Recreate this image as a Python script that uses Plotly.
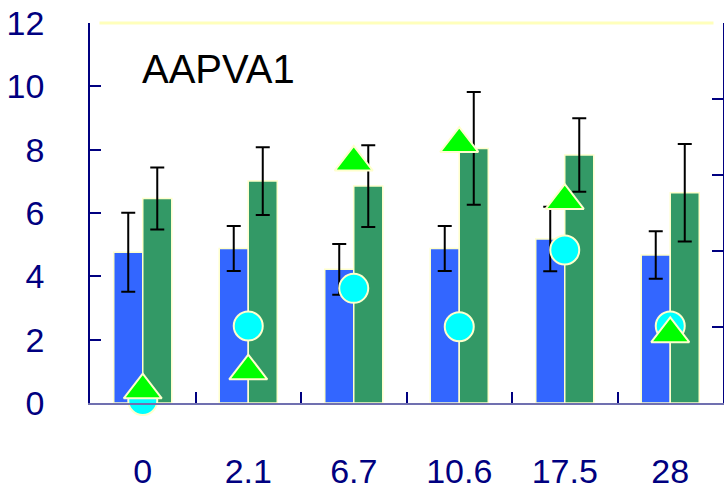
import plotly.graph_objects as go

categories = ["0", "2.1", "6.7", "10.6", "17.5", "28"]
blue_values = [4.76, 4.88, 4.22, 4.88, 5.18, 4.67]
blue_errors = [1.25, 0.71, 0.80, 0.71, 1.02, 0.75]
green_values = [6.46, 7.01, 6.85, 8.04, 7.83, 6.64]
green_errors = [0.98, 1.07, 1.29, 1.78, 1.16, 1.54]
circle_values = [0.08, 2.43, 3.62, 2.41, 4.83, 2.43]
triangle_values = [0.41, 1.01, 7.60, 8.19, 6.39, 2.18]
y_ticks = [0, 2, 4, 6, 8, 10, 12]

OUTLINE = "#FFFFCC"
NAVY = "#000080"
NUMFONT = "Liberation Sans, Arial, sans-serif"

fig = go.Figure()
fig.add_trace(go.Bar(
    x=categories, y=blue_values,
    marker=dict(color="#3366FF", line=dict(color=OUTLINE, width=1.5)),
    error_y=dict(type="data", array=blue_errors, color="black", thickness=2, width=7),
    showlegend=False,
))
fig.add_trace(go.Bar(
    x=categories, y=green_values,
    marker=dict(color="#339966", line=dict(color=OUTLINE, width=1.5)),
    error_y=dict(type="data", array=green_errors, color="black", thickness=2, width=7),
    showlegend=False,
))
fig.add_trace(go.Scatter(
    x=categories, y=circle_values, mode="markers",
    marker=dict(symbol="circle", size=29, color="#00FFFF", line=dict(color=OUTLINE, width=2)),
    cliponaxis=False, showlegend=False,
))
fig.add_trace(go.Scatter(
    x=categories, y=triangle_values, mode="markers",
    marker=dict(symbol="triangle-up", size=33, color="#00FF00", line=dict(color=OUTLINE, width=2)),
    cliponaxis=False, showlegend=False,
))
# invisible trace to hold the right axis
fig.add_trace(go.Scatter(x=[categories[0]], y=[0], yaxis="y2", mode="markers",
                         marker=dict(opacity=0), showlegend=False, hoverinfo="skip"))

fig.update_layout(
    width=724, height=489,
    margin=dict(l=90, r=1, t=23, b=86),
    paper_bgcolor="white", plot_bgcolor="white",
    barmode="group", bargap=0.45, bargroupgap=0,
    xaxis=dict(
        type="category", categoryorder="array", categoryarray=categories,
        automargin=False,
        showline=True, linecolor="#7070B0", linewidth=2,
        ticks="inside", tickson="boundaries", ticklen=11, tickcolor=NAVY, tickwidth=1.5,
        tickfont=dict(family=NUMFONT, size=34, color=NAVY),
        ticklabelstandoff=37,
        showgrid=False, zeroline=False,
    ),
    yaxis=dict(
        range=[0, 12], tickvals=y_ticks, ticktext=[str(v) for v in y_ticks],
        automargin=False,
        showline=True, linecolor=NAVY, linewidth=1.5,
        ticks="inside", ticklen=11, tickcolor=NAVY, tickwidth=1.5,
        tickfont=dict(family=NUMFONT, size=34, color=NAVY),
        ticklabelstandoff=37,
        showgrid=False, zeroline=False,
    ),
    yaxis2=dict(
        overlaying="y", side="right", range=[0, 5], dtick=1,
        automargin=False,
        showline=True, linecolor=NAVY, linewidth=1.5,
        ticks="inside", ticklen=11, tickcolor=NAVY, tickwidth=1.5,
        showticklabels=False, showgrid=False, zeroline=False,
    ),
    shapes=[dict(type="line", xref="paper", yref="paper", x0=0.015, x1=0.985, y0=1, y1=1,
                 line=dict(color="#FFFFBB", width=3))],
    annotations=[dict(text="AAPVA1", xref="paper", yref="paper", x=0.079, y=0.88,
                      xanchor="left", yanchor="middle", showarrow=False,
                      font=dict(family="Liberation Sans, Arial, sans-serif", size=40, color="black"))],
)

fig.write_html("out.html",
               config={"displayModeBar": False},
               post_script="document.body.style.margin='0';document.body.style.overflow='hidden';")
